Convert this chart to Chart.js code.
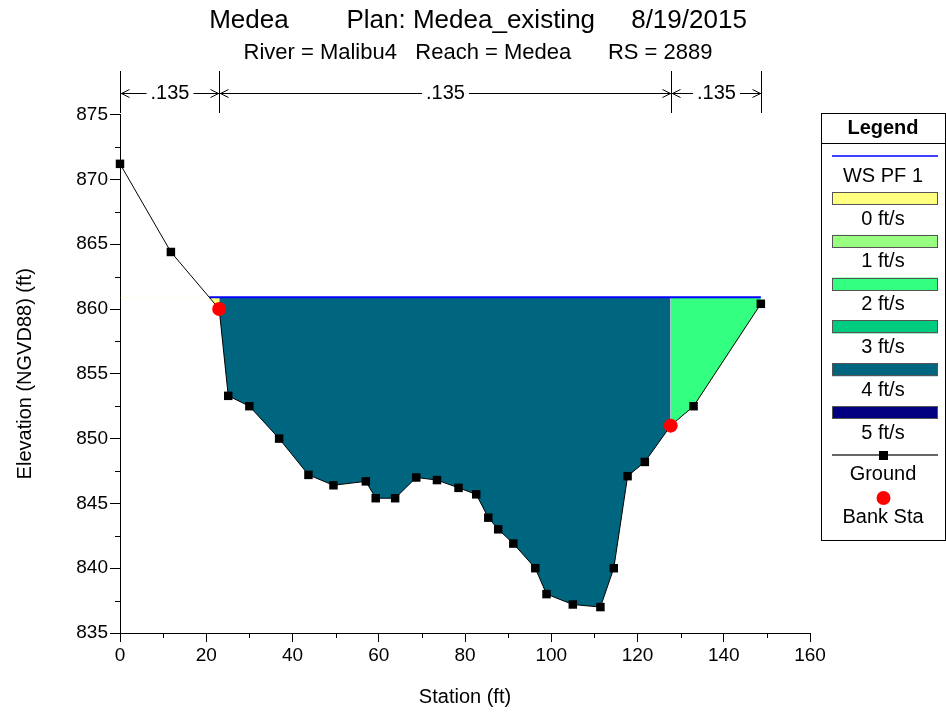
<!DOCTYPE html>
<html>
<head>
<meta charset="utf-8">
<title>Medea - RS 2889</title>
<script src="https://cdn.jsdelivr.net/npm/chart.js@4.4.1/dist/chart.umd.min.js"></script>
<style>
  html, body { margin: 0; padding: 0; background: #fff; }
  #chart { display: block; }
</style>
</head>
<body>
<canvas id="chart" width="946" height="712"></canvas>
<script>
// Ground profile (station ft, elevation ft)
var stations = [0, 11.8, 23.0, 25.1, 30.0, 36.9, 43.7, 49.5, 57.0, 59.3, 63.8, 68.7, 73.5, 78.5,
  82.6, 85.4, 87.7, 91.2, 96.3, 98.9, 105.0, 111.4, 114.5, 117.7, 121.7, 127.7, 133.0, 148.6];
var groundElev = [871.2, 864.4, 860.0, 853.3, 852.5, 850.0, 847.2, 846.4, 846.7, 845.4, 845.4, 847.0, 846.8, 846.2,
  845.7, 843.9, 843.0, 841.9, 840.0, 838.0, 837.2, 837.0, 840.0, 847.1, 848.2, 851.0, 852.5, 860.4];

// Bank stations
var bankStations = [23.0, 127.7];
var bankElev = [860.0, 851.0];

// Water surface PF 1
var wsElev = 860.9;
var wsStations = [20.7, 148.6];

// Manning's n regions
var nBreaks = [0, 23.0, 127.7, 148.6];
var nValues = ['.135', '.135', '.135'];

// Velocity legend classes
var velocityLabels = ['0 ft/s', '1 ft/s', '2 ft/s', '3 ft/s', '4 ft/s', '5 ft/s'];
var velocityColors = ['#FFFF80', '#99FF80', '#33FF80', '#00CC80', '#006680', '#000080'];
// velocity class of each flow area: left overbank, channel, right overbank
var areaVelocityClass = [0, 4, 2];

// Axis ticks
var xTicks = [0, 20, 40, 60, 80, 100, 120, 140, 160];
var xMinorTicks = [10, 30, 50, 70, 90, 110, 130, 150];
var yTicks = [835, 840, 845, 850, 855, 860, 865, 870, 875];
var yMinorTicks = [837.5, 842.5, 847.5, 852.5, 857.5, 862.5, 867.5, 872.5];

var FONT = "'Liberation Sans', Arial, sans-serif";
Chart.defaults.font.family = FONT;
Chart.defaults.color = '#000';

function groundPoints(lo, hi) {
  var pts = [];
  for (var i = 0; i < stations.length; i++) {
    if (stations[i] >= lo && stations[i] <= hi) pts.push({ x: stations[i], y: groundElev[i] });
  }
  return pts;
}

// one fill dataset per flow area, filled up to the water surface
var areaDatasets = areaVelocityClass.map(function(cls, i) {
  var color = velocityColors[cls];
  return {
    label: 'area ' + i,
    data: groundPoints(nBreaks[i], nBreaks[i + 1]),
    borderWidth: 0,
    pointRadius: 0,
    fill: { target: { value: wsElev }, above: 'rgba(0,0,0,0)', below: color }
  };
});

// tick marks that Chart.js can't do: shorter minor ticks
var minorTicksPlugin = {
  id: 'minorTicks',
  afterDraw: function(chart) {
    var ctx = chart.ctx, xs = chart.scales.x, ys = chart.scales.y;
    var area = chart.chartArea;
    ctx.save();
    ctx.strokeStyle = '#000';
    ctx.lineWidth = 1;
    ctx.beginPath();
    xMinorTicks.forEach(function(v) {
      var px = Math.round(xs.getPixelForValue(v)) + 0.5;
      ctx.moveTo(px, area.bottom);
      ctx.lineTo(px, area.bottom + 5);
    });
    yMinorTicks.forEach(function(v) {
      var py = Math.round(ys.getPixelForValue(v)) + 0.5;
      ctx.moveTo(area.left - 5, py);
      ctx.lineTo(area.left, py);
    });
    ctx.stroke();
    ctx.restore();
  }
};

// Manning's n bands above the plot
var nValuesPlugin = {
  id: 'nValues',
  afterDraw: function(chart) {
    var ctx = chart.ctx, xs = chart.scales.x;
    var y = 93.5;
    ctx.save();
    ctx.strokeStyle = '#000';
    ctx.fillStyle = '#000';
    ctx.lineWidth = 1;
    ctx.font = '20px ' + FONT;
    ctx.textAlign = 'center';
    ctx.textBaseline = 'middle';
    var px = nBreaks.map(function(s) { return Math.round(xs.getPixelForValue(s)) + 0.5; });
    ctx.beginPath();
    px.forEach(function(p) {
      ctx.moveTo(p, 71);
      ctx.lineTo(p, 113);
    });
    for (var i = 0; i < nValues.length; i++) {
      var a = px[i], b = px[i + 1];
      var mid = (a + b) / 2;
      var w = ctx.measureText(nValues[i]).width;
      ctx.fillText(nValues[i], mid, y);
      ctx.moveTo(a, y); ctx.lineTo(mid - w / 2 - 4, y);
      ctx.moveTo(mid + w / 2 + 4, y); ctx.lineTo(b, y);
      // arrow heads
      ctx.moveTo(a + 9, y - 4); ctx.lineTo(a + 1, y); ctx.lineTo(a + 9, y + 4);
      ctx.moveTo(b - 9, y - 4); ctx.lineTo(b - 1, y); ctx.lineTo(b - 9, y + 4);
    }
    ctx.stroke();
    ctx.restore();
  }
};

// the HEC-RAS style legend box on the right
var legendBoxPlugin = {
  id: 'legendBox',
  afterDraw: function(chart) {
    var ctx = chart.ctx;
    var left = 821, right = 945, top = 113, bottom = 540;
    var cx = (left + right) / 2;
    var sl = 832, sw = 106;
    ctx.save();
    ctx.strokeStyle = '#000';
    ctx.lineWidth = 1;
    ctx.strokeRect(left + 0.5, top + 0.5, right - left, bottom - top);
    ctx.beginPath();
    ctx.moveTo(left, 143.5);
    ctx.lineTo(right + 1, 143.5);
    ctx.stroke();

    ctx.fillStyle = '#000';
    ctx.textAlign = 'center';
    ctx.textBaseline = 'middle';
    ctx.font = 'bold 20px ' + FONT;
    ctx.fillText('Legend', cx, 128);

    ctx.font = '20px ' + FONT;
    ctx.strokeStyle = '#0000FF';
    ctx.lineWidth = 1.5;
    ctx.beginPath();
    ctx.moveTo(sl, 156);
    ctx.lineTo(sl + sw, 156);
    ctx.stroke();
    ctx.fillText('WS PF 1', cx, 176);

    for (var i = 0; i < velocityLabels.length; i++) {
      var st = 192 + i * 42.8;
      ctx.fillStyle = velocityColors[i];
      ctx.fillRect(sl, st, sw, 13);
      ctx.strokeStyle = '#555';
      ctx.lineWidth = 1;
      ctx.strokeRect(sl + 0.5, Math.round(st) + 0.5, sw - 1, 12);
      ctx.fillStyle = '#000';
      ctx.fillText(velocityLabels[i], cx, st + 27);
    }

    ctx.strokeStyle = '#333';
    ctx.lineWidth = 1.5;
    ctx.beginPath();
    ctx.moveTo(sl, 455);
    ctx.lineTo(sl + sw, 455);
    ctx.stroke();
    ctx.fillRect(cx - 4, 451, 9, 9);
    ctx.fillText('Ground', cx, 474);

    ctx.fillStyle = '#FF0000';
    ctx.beginPath();
    ctx.arc(cx + 0.5, 498, 7, 0, Math.PI * 2);
    ctx.fill();
    ctx.fillStyle = '#000';
    ctx.fillText('Bank Sta', cx, 517);
    ctx.restore();
  }
};

var datasets = [
  {
    label: 'Bank Sta',
    data: bankStations.map(function(s, i) { return { x: s, y: bankElev[i] }; }),
    showLine: false,
    pointStyle: 'circle',
    pointRadius: 7,
    pointBackgroundColor: '#FF0000',
    pointBorderWidth: 0,
    clip: false
  },
  {
    label: 'Ground',
    data: stations.map(function(s, i) { return { x: s, y: groundElev[i] }; }),
    borderColor: '#000',
    borderWidth: 1,
    pointStyle: 'rect',
    pointRadius: 6,
    pointBackgroundColor: '#000',
    pointBorderWidth: 0,
    fill: false,
    clip: false
  },
  {
    label: 'WS PF 1',
    data: wsStations.map(function(s) { return { x: s, y: wsElev }; }),
    borderColor: '#0000FF',
    borderWidth: 2,
    pointRadius: 0,
    fill: false
  }
].concat(areaDatasets);

var ctx = document.getElementById('chart').getContext('2d');
var chart = new Chart(ctx, {
  type: 'line',
  data: { datasets: datasets },
  options: {
    responsive: false,
    animation: false,
    layout: { padding: { left: 10 } },
    plugins: {
      legend: { display: false },
      tooltip: { enabled: false },
      title: {
        display: true,
        text: 'Medea        Plan: Medea_existing     8/19/2015',
        font: { size: 26, weight: 'normal' },
        color: '#000',
        padding: { top: 5, bottom: 0 }
      },
      subtitle: {
        display: true,
        text: 'River = Malibu4   Reach = Medea      RS = 2889',
        font: { size: 22 },
        color: '#000',
        padding: { top: 4, bottom: 48 }
      }
    },
    scales: {
      x: {
        type: 'linear',
        min: 0,
        max: 160,
        afterBuildTicks: function(scale) {
          scale.ticks = xTicks.map(function(v) { return { value: v }; });
        },
        afterFit: function(scale) { scale.height = 79; },
        grid: { display: true, drawOnChartArea: false, drawTicks: true, tickLength: 9, tickColor: '#000' },
        border: { display: true, color: '#000', width: 1 },
        ticks: { color: '#000', font: { size: 19 }, padding: 2, maxRotation: 0, autoSkip: false },
        title: { display: true, text: 'Station (ft)', color: '#000', font: { size: 20 }, padding: { top: 0, bottom: 3 } }
      },
      y: {
        position: 'left',
        min: 835,
        max: 875,
        afterBuildTicks: function(scale) {
          scale.ticks = yTicks.map(function(v) { return { value: v }; });
        },
        afterFit: function(scale) { scale.width = 110; },
        grid: { display: true, drawOnChartArea: false, drawTicks: true, tickLength: 10, tickColor: '#000' },
        border: { display: true, color: '#000', width: 1 },
        ticks: { color: '#000', font: { size: 19 }, padding: 2 },
        title: { display: true, text: 'Elevation (NGVD88) (ft)', color: '#000', font: { size: 20 }, padding: { top: 3, bottom: 0 } }
      },
      legendSpace: {
        position: 'right',
        display: true,
        afterFit: function(scale) { scale.width = 136; },
        grid: { display: false },
        ticks: { display: false },
        border: { display: false }
      }
    }
  },
  plugins: [minorTicksPlugin, nValuesPlugin, legendBoxPlugin]
});
</script>
</body>
</html>
